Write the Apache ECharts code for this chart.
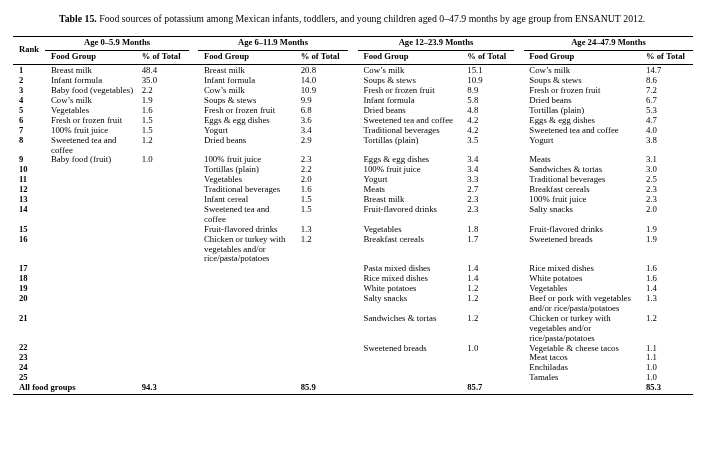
<!DOCTYPE html>
<html>
<head>
<meta charset="utf-8">
<script src="https://cdn.jsdelivr.net/npm/echarts@6/dist/echarts.min.js"></script>
<style>
  html, body { margin: 0; padding: 0; background: #fff; }
  #chart { width: 713px; height: 449px; }
</style>
</head>
<body>
<div id="chart"></div>
<script>
// table data
const ranks = [1, 2, 3, 4, 5, 6, 7, 8, 9, 10, 11, 12, 13, 14, 15, 16, 17, 18, 19, 20, 21, 22, 23, 24, 25]
const ageGroups = ['Age 0–5.9 Months', 'Age 6–11.9 Months', 'Age 12–23.9 Months', 'Age 24–47.9 Months']

const foods0 = ['Breast milk', 'Infant formula', 'Baby food (vegetables)', 'Cow’s milk', 'Vegetables',
  'Fresh or frozen fruit', '100% fruit juice', 'Sweetened tea and\ncoffee', 'Baby food (fruit)']
const pct0 = [48.4, 35.0, 2.2, 1.9, 1.6, 1.5, 1.5, 1.2, 1.0]

const foods1 = ['Breast milk', 'Infant formula', 'Cow’s milk', 'Soups & stews', 'Fresh or frozen fruit',
  'Eggs & egg dishes', 'Yogurt', 'Dried beans', '100% fruit juice', 'Tortillas (plain)', 'Vegetables',
  'Traditional beverages', 'Infant cereal', 'Sweetened tea and\ncoffee', 'Fruit-flavored drinks',
  'Chicken or turkey with\nvegetables and/or\nrice/pasta/potatoes']
const pct1 = [20.8, 14.0, 10.9, 9.9, 6.8, 3.6, 3.4, 2.9, 2.3, 2.2, 2.0, 1.6, 1.5, 1.5, 1.3, 1.2]

const foods2 = ['Cow’s milk', 'Soups & stews', 'Fresh or frozen fruit', 'Infant formula', 'Dried beans',
  'Sweetened tea and coffee', 'Traditional beverages', 'Tortillas (plain)', 'Eggs & egg dishes',
  '100% fruit juice', 'Yogurt', 'Meats', 'Breast milk', 'Fruit-flavored drinks', 'Vegetables',
  'Breakfast cereals', 'Pasta mixed dishes', 'Rice mixed dishes', 'White potatoes', 'Salty snacks',
  'Sandwiches & tortas', 'Sweetened breads']
const pct2 = [15.1, 10.9, 8.9, 5.8, 4.8, 4.2, 4.2, 3.5, 3.4, 3.4, 3.3, 2.7, 2.3, 2.3, 1.8, 1.7,
  1.4, 1.4, 1.2, 1.2, 1.2, 1.0]

const foods3 = ['Cow’s milk', 'Soups & stews', 'Fresh or frozen fruit', 'Dried beans', 'Tortillas (plain)',
  'Eggs & egg dishes', 'Sweetened tea and coffee', 'Yogurt', 'Meats', 'Sandwiches & tortas',
  'Traditional beverages', 'Breakfast cereals', '100% fruit juice', 'Salty snacks', 'Fruit-flavored drinks',
  'Sweetened breads', 'Rice mixed dishes', 'White potatoes', 'Vegetables',
  'Beef or pork with vegetables\nand/or rice/pasta/potatoes',
  'Chicken or turkey with\nvegetables and/or\nrice/pasta/potatoes',
  'Vegetable & cheese tacos', 'Meat tacos', 'Enchiladas', 'Tamales']
const pct3 = [14.7, 8.6, 7.2, 6.7, 5.3, 4.7, 4.0, 3.8, 3.1, 3.0, 2.5, 2.3, 2.3, 2.0, 1.9, 1.9,
  1.6, 1.6, 1.4, 1.3, 1.2, 1.1, 1.1, 1.0, 1.0]

const totals = [94.3, 85.9, 85.7, 85.3]

// layout
const FONT = '"Liberation Serif", serif'
const SIZE = 8.8
const BOLD_SIZE = 8.6
const TITLE_SIZE = 9.8
const LINE0_Y = 71
const STEP = 9.9
const rankX = 19
const foodX = [51, 204, 363.5, 529.3]
const pctX = [141.7, 300.7, 467.3, 646]
const groupRule = [[45, 189], [198, 348], [358, 514], [524, 693]]

const foods = [foods0, foods1, foods2, foods3]
const pcts = [pct0, pct1, pct2, pct3]

const cells = []
const rules = []

// header
cells.push({ x: rankX, line: -2.19, text: 'Rank', bold: true })
ageGroups.forEach((g, i) => {
  cells.push({ x: (groupRule[i][0] + groupRule[i][1]) / 2, line: -2.83, text: g, bold: true, align: 'center' })
  cells.push({ x: foodX[i], line: -1.41, text: 'Food Group', bold: true })
  cells.push({ x: pctX[i], line: -1.41, text: '% of Total', bold: true })
  rules.push([groupRule[i][0], -2.12, groupRule[i][1]])
})
rules.push([13, -3.54, 693])
rules.push([13, -0.71, 693])

// body rows, each row as tall as its longest cell
let line = 0
ranks.forEach((rank, r) => {
  let n = 1
  cells.push({ x: rankX, line: line, text: String(rank), bold: true })
  foods.forEach((list, g) => {
    if (list[r] === undefined) return
    const parts = list[r].split('\n')
    n = Math.max(n, parts.length)
    parts.forEach((t, k) => cells.push({ x: foodX[g], line: line + k, text: t }))
    cells.push({ x: pctX[g], line: line, text: pcts[g][r].toFixed(1) })
  })
  line += n
})

cells.push({ x: rankX, line: line, text: 'All food groups', bold: true })
totals.forEach((t, g) => cells.push({ x: pctX[g], line: line, text: t.toFixed(1), bold: true }))
rules.push([13, line + 0.66, 693])

const chart = echarts.init(document.getElementById('chart'), null, { renderer: 'canvas' })

const option = {
  animation: false,
  backgroundColor: '#fff',
  title: {
    text: '{b|Table 15.} Food sources of potassium among Mexican infants, toddlers, and young children aged 0–47.9 months by age group from ENSANUT 2012.',
    left: 59,
    top: 14,
    padding: 0,
    textStyle: {
      fontFamily: FONT,
      fontSize: TITLE_SIZE,
      fontWeight: 'normal',
      color: '#000',
      rich: {
        b: { fontFamily: FONT, fontSize: TITLE_SIZE, fontWeight: 'bold', color: '#000' }
      }
    }
  },
  grid: { left: 0, right: 0, top: 0, bottom: 0 },
  xAxis: { type: 'value', min: 0, max: 713, show: false },
  yAxis: {
    type: 'value',
    inverse: true,
    min: -LINE0_Y / STEP,
    max: (449 - LINE0_Y) / STEP,
    show: false
  },
  series: [
    {
      type: 'custom',
      silent: true,
      data: rules,
      renderItem: function (params, api) {
        const p1 = api.coord([api.value(0), api.value(1)])
        const p2 = api.coord([api.value(2), api.value(1)])
        return {
          type: 'line',
          shape: { x1: p1[0], y1: Math.round(p1[1]) + 0.5, x2: p2[0], y2: Math.round(p2[1]) + 0.5 },
          style: { stroke: '#000', lineWidth: 1 }
        }
      }
    },
    {
      type: 'custom',
      silent: true,
      data: cells.map(c => [c.x, c.line]),
      renderItem: function (params, api) {
        const c = cells[params.dataIndex]
        const p = api.coord([api.value(0), api.value(1)])
        return {
          type: 'text',
          style: {
            text: c.text,
            x: p[0],
            y: p[1],
            fill: '#000',
            font: (c.bold ? 'bold ' + BOLD_SIZE : SIZE) + 'px ' + FONT,
            textAlign: c.align || 'left',
            textVerticalAlign: 'middle'
          }
        }
      }
    }
  ]
}

chart.setOption(option)
</script>
</body>
</html>
